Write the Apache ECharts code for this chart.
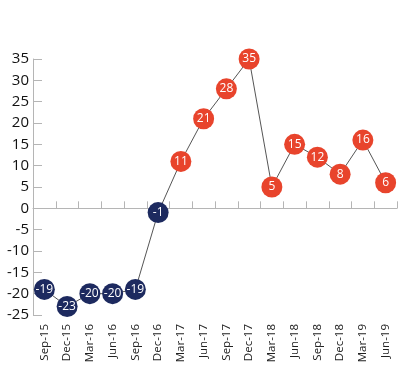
<!DOCTYPE html>
<html><head><meta charset="utf-8">
<script src="https://cdn.jsdelivr.net/npm/echarts@6/dist/echarts.min.js"></script>
<style>html,body{margin:0;padding:0;background:#fff}#c{width:411px;height:371px}</style>
</head><body><div id="c"></div>
<script>
const categories = ['Sep-15','Dec-15','Mar-16','Jun-16','Sep-16','Dec-16','Mar-17','Jun-17','Sep-17','Dec-17','Mar-18','Jun-18','Sep-18','Dec-18','Mar-19','Jun-19'];
const values = [-19,-23,-20,-20,-19,-1,11,21,28,35,5,15,12,8,16,6];
const yTicks = {min:-25, max:35, interval:5};
const NAVY = '#1d2a5f', RED = '#e8442c';
const seriesData = values.map(v => ({value:v, itemStyle:{color: v < 0 ? NAVY : RED}}));
const chart = echarts.init(document.getElementById('c'));
chart.setOption({
  animation:false,
  textStyle:{fontFamily:'Open Sans'},
  grid:{left:33, right:14, top:59, bottom:56},
  xAxis:[{
    type:'category', data:categories, boundaryGap:true,
    axisLine:{onZero:true, lineStyle:{color:'#b5b5b5', width:1}},
    axisTick:{show:true, inside:true, length:7, interval:0, lineStyle:{color:'#b5b5b5'}},
    axisLabel:{show:false}, splitLine:{show:false}
  },{
    type:'category', data:categories, boundaryGap:true, position:'bottom',
    axisLine:{show:false, onZero:false}, axisTick:{show:false},
    axisLabel:{show:true, rotate:90, margin:9, color:'#222', fontSize:11.5, interval:0}
  }],
  yAxis:{
    type:'value', min:yTicks.min, max:yTicks.max, interval:yTicks.interval,
    axisLine:{show:true, lineStyle:{color:'#b5b5b5'}},
    axisTick:{show:true, inside:true, length:9, lineStyle:{color:'#b5b5b5'}},
    axisLabel:{color:'#111', fontSize:15, margin:4},
    splitLine:{show:false}
  },
  series:[{
    type:'line', xAxisIndex:0, data:seriesData,
    symbol:'circle', symbolSize:21, showSymbol:true, showAllSymbol:true,
    lineStyle:{color:'#555', width:1},
    label:{show:true, position:'inside', color:'#fff', fontSize:12},
    z:3
  }]
});
</script></body></html>
